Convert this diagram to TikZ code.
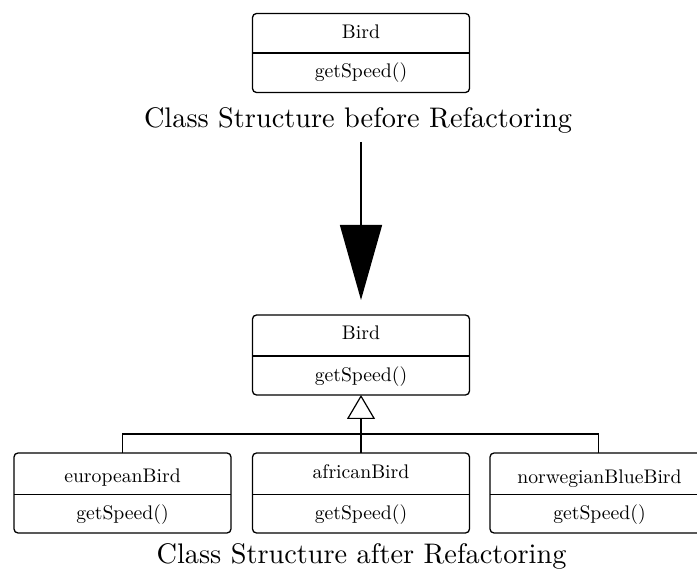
\documentclass[tikz,border=0pt]{standalone}
\usetikzlibrary{arrows.meta}
\newcommand{\boxlbl}[1]{\scalebox{1.97}{\fontsize{10}{12}\selectfont #1}}
\newcommand{\caplbl}[1]{\scalebox{2.83}{\fontsize{10}{12}\selectfont #1}}
\begin{document}
\begin{tikzpicture}[x=1pt,y=-1pt,
  umlbox/.style={draw, line width=1.3pt, rounded corners=4pt, minimum width=217pt, minimum height=79pt, inner sep=0pt, outer sep=0pt},
  divider/.style={line width=1.2pt},
  boxtext/.style={anchor=base, inner sep=0pt},
  caption/.style={anchor=base, inner sep=0pt},
  conn/.style={line width=1.2pt}]
\useasboundingbox (0,0) rectangle (697,569);
\clip (0,0) rectangle (697,569);
% top (before)
\node[umlbox] (top) at (361,53) {};
\draw[divider] (top.west |- 0,53) -- (top.east |- 0,53);
\node[boxtext] (topname) at (361,39) {\boxlbl{Bird}};
\node[boxtext] (topop) at (361,78) {\boxlbl{getSpeed()}};
\node[caption] (capbefore) at (358,128) {\caplbl{Class Structure before Refactoring}};
% big arrow
\coordinate (astart) at (361,142);
% middle (after)
\node[umlbox, minimum height=80pt] (mid) at (361,355) {};
\draw[divider] (mid.west |- 0,356) -- (mid.east |- 0,356);
\node[boxtext] (midname) at (361,340) {\boxlbl{Bird}};
\node[boxtext] (midop) at (361,382) {\boxlbl{getSpeed()}};
\draw[line width=1.5pt, -{Triangle[length=75pt,width=42pt]}, shorten >=15pt] (astart) -- (mid.north);
% subclasses
\node[umlbox, minimum height=80pt] (eu) at (122.5,493) {};
\node[umlbox, minimum height=80pt] (af) at (361,493) {};
\node[umlbox, minimum height=80pt] (no) at (598.5,493) {};
\draw[divider] (eu.west |- 0,494.5) -- (eu.east |- 0,494.5);
\draw[divider] (af.west |- 0,494.5) -- (af.east |- 0,494.5);
\draw[divider] (no.west |- 0,494.5) -- (no.east |- 0,494.5);
\node[boxtext] (euname) at (122.5,483) {\boxlbl{europeanBird}};
\node[boxtext] (afname) at (361,479) {\boxlbl{africanBird}};
\node[boxtext] (noname) at (599.5,484) {\boxlbl{norwegianBlueBird}};
\node[boxtext] (euop) at (122.5,519.5) {\boxlbl{getSpeed()}};
\node[boxtext] (afop) at (361,520) {\boxlbl{getSpeed()}};
\node[boxtext] (noop) at (599.5,520) {\boxlbl{getSpeed()}};
% generalization
\coordinate (bus) at (361,434);
\draw[conn] (eu.north) |- (bus) -| (no.north);
\draw[conn, -{Triangle[open,length=24pt,width=28pt,line width=1.2pt]}] (af.north) -- (mid.south);
\node[caption] (capafter) at (361.5,563) {\caplbl{Class Structure after Refactoring}};
\end{tikzpicture}
\end{document}
